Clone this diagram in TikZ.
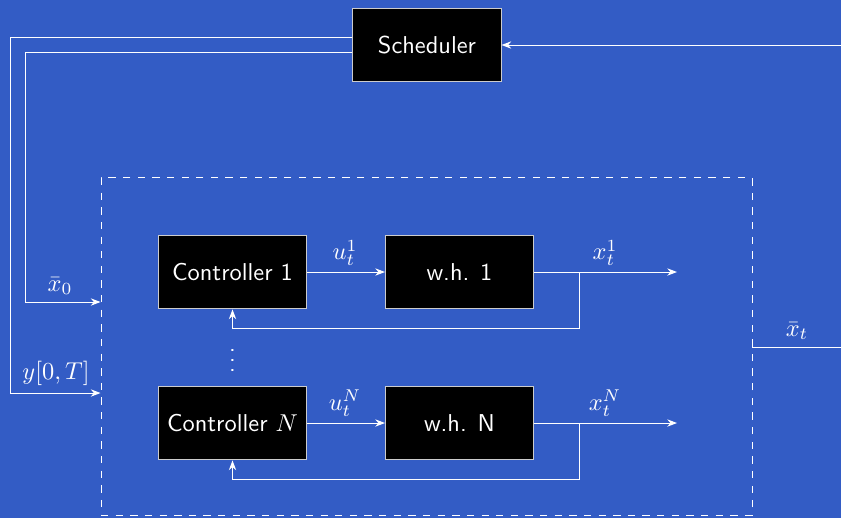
\documentclass[tikz,border=0pt]{standalone}
\usetikzlibrary{arrows.meta}
\definecolor{bgblue}{RGB}{51,92,197}
\tikzset{
  blk/.style={draw=white!80!black, fill=black, text=white, font=\sffamily,
    minimum width=60.7pt, minimum height=30.3pt, inner sep=0pt},
  arr/.style={draw=white, -{Stealth[length=4pt,width=3pt]}},
  ln/.style={draw=white},
  lbl/.style={text=white, font=\sffamily, inner sep=0pt},
  sysbox/.style={draw=white, dashed, minimum width=266.9pt, minimum height=138.2pt, inner sep=0pt}
}
\begin{document}
\begin{tikzpicture}[x=0.41pt,y=-0.41pt]
\fill[bgblue] (0,0) rectangle (841,518);
\useasboundingbox (0,0) rectangle (841,518);

\node[blk] (sched) at (427,45) {Scheduler};
\node[sysbox] (sys) at (426.5,346.5) {};
\node[blk] (c1) at (232.5,272) {Controller 1};
\node[blk] (w1) at (459.5,272) {w.h. 1};
\node[blk] (cN) at (232.5,423) {Controller $N$};
\node[blk] (wN) at (459.5,423) {w.h. N};
\node[lbl] (dots) at (232.5,353) {$\vdots$};

\coordinate (xin) at (841,45);
\coordinate (xout) at (841,347);
\coordinate (o1) at (677,272);
\coordinate (oN) at (677,423);
\coordinate (b1) at (579.5,272);
\coordinate (bN) at (579.5,423);

% scheduler
\draw[arr] (xin) -- (sched.east);
\draw[arr] ([yshift=3.1pt]sched.west) -| (10,393) -- (sys.west |- 0,393);
\draw[arr] ([yshift=-3.0pt]sched.west) -| (25,302) -- (sys.west |- 0,302);
\node[lbl] (lx0) at (60,286) {$\bar{x}_0$};
\node[lbl] (ly) at (56,373) {$y[0,T]$};

% loop 1
\draw[arr] (c1.east) -- (w1.west);
\node[lbl] (u1) at (345,253) {$u_t^1$};
\draw[arr] (w1.east) -- (o1);
\draw[arr] (b1) -- (579.5,328) -| (c1.south);
\node[lbl] (x1) at (605,253) {$x_t^1$};

% loop N
\draw[arr] (cN.east) -- (wN.west);
\node[lbl] (uN) at (345,403) {$u_t^N$};
\draw[arr] (wN.east) -- (oN);
\draw[arr] (bN) -- (579.5,479) -| (cN.south);
\node[lbl] (xN) at (605,403) {$x_t^N$};

% output
\draw[ln] (sys.east |- xout) -- (xout);
\node[lbl] (xbar) at (797,331) {$\bar{x}_t$};
\end{tikzpicture}
\end{document}
